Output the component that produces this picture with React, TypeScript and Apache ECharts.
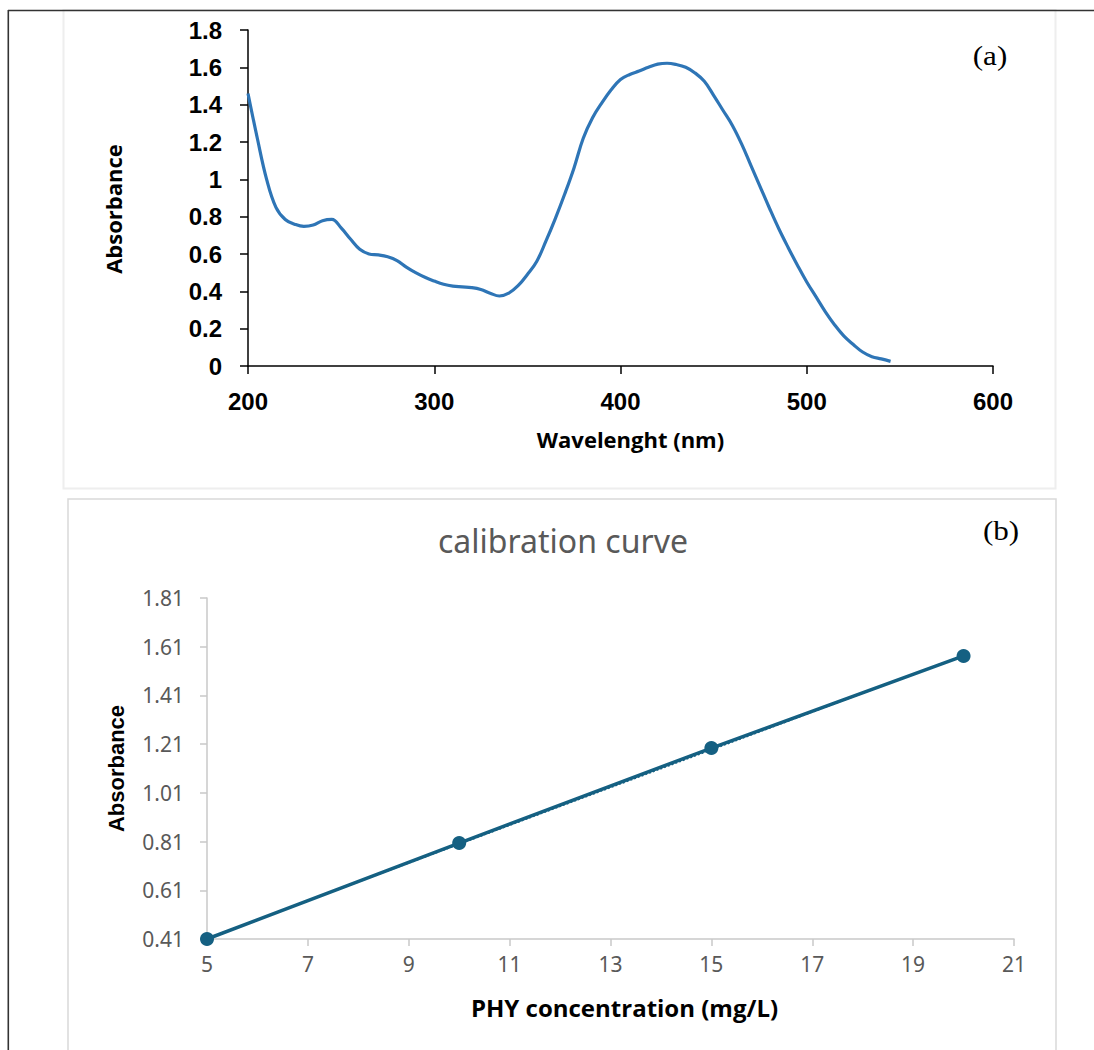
import React, { useEffect, useRef } from "react";
import * as echarts from "echarts";

// ---- Panel (a): UV-Vis spectrum ----
const wavelength = [
  200, 205, 210, 215, 220, 225, 230, 235, 240, 245, 250, 255, 260, 265, 270, 275,
  280, 285, 290, 295, 300, 305, 310, 315, 320, 325, 330, 335, 340, 345, 350, 355,
  360, 365, 370, 375, 380, 385, 390, 395, 400, 405, 410, 415, 420, 425, 430, 435,
  440, 445, 450, 455, 460, 465, 470, 475, 480, 485, 490, 495, 500, 505, 510, 515,
  520, 525, 530, 535, 540, 545,
];
const absorbance = [
  1.46, 1.22, 1.0, 0.85, 0.785, 0.76, 0.748, 0.755, 0.778, 0.785, 0.74, 0.68, 0.625, 0.6, 0.595, 0.585,
  0.565, 0.53, 0.5, 0.475, 0.455, 0.438, 0.428, 0.424, 0.42, 0.41, 0.39, 0.375, 0.39, 0.43, 0.49, 0.56,
  0.67, 0.79, 0.92, 1.06, 1.22, 1.33, 1.41, 1.48, 1.535, 1.562, 1.58, 1.6, 1.617, 1.622, 1.615, 1.6,
  1.57, 1.525, 1.45, 1.37, 1.29, 1.19, 1.075, 0.96, 0.845, 0.735, 0.635, 0.54, 0.45, 0.37, 0.29, 0.22,
  0.16, 0.115, 0.075, 0.05, 0.038, 0.025,
];

// ---- Panel (b): calibration curve ----
const concentration = [5, 10, 15, 20];
const calAbsorbance = [0.41, 0.804, 1.194, 1.572];
const trendX = [5, 20];
const trendY = [0.412, 1.574];
const calYTicks = [0.41, 0.61, 0.81, 1.01, 1.21, 1.41, 1.61, 1.81];
const calXTicks = [5, 7, 9, 11, 13, 15, 17, 19, 21];

export default function App() {
  const ref = useRef<HTMLDivElement>(null);

  useEffect(() => {
    document.body.style.margin = "0";
    const chart = echarts.init(ref.current!, null, { renderer: "svg" });

    const spectrum = wavelength.map((w, i) => [w, absorbance[i]]);
    const calib = concentration.map((c, i) => [c, calAbsorbance[i]]);
    const trend = trendX.map((c, i) => [c, trendY[i]]);

    const grayText = "#595959";
    const grayAxis = "#c9c9c9";

    chart.setOption({
      animation: false,
      backgroundColor: "#ffffff",
      grid: [
        { left: 248, right: 101, top: 30, bottom: 684, containLabel: false },
        { left: 207, right: 80, top: 598, bottom: 111, containLabel: false },
      ],
      title: {
        text: "calibration curve",
        left: 433,
        top: 519,
        textStyle: {
          fontFamily: "Noto Sans",
          fontSize: 32,
          fontWeight: "normal",
          color: grayText,
        },
      },
      xAxis: [
        {
          type: "value",
          gridIndex: 0,
          min: 200,
          max: 600,
          interval: 100,
          name: "Wavelenght (nm)",
          nameLocation: "middle",
          nameGap: 62,
          nameTextStyle: {
            fontFamily: "Open Sans",
            fontWeight: "bold",
            fontSize: 22,
            color: "#000",
            padding: [0, 0, 0, 20],
          },
          axisLine: { lineStyle: { color: "#000", width: 1.5 } },
          axisTick: { show: true, inside: false, length: 8, lineStyle: { color: "#000", width: 1.5 } },
          axisLabel: {
            margin: 23,
            fontFamily: "Liberation Sans",
            fontWeight: "bold",
            fontSize: 24,
            color: "#000",
          },
          splitLine: { show: false },
        },
        {
          type: "value",
          gridIndex: 1,
          min: 5,
          max: 21,
          name: "PHY concentration (mg/L)",
          nameLocation: "middle",
          nameGap: 56,
          nameTextStyle: {
            fontFamily: "Open Sans",
            fontWeight: "bold",
            fontSize: 24,
            color: "#000",
            padding: [0, 0, 0, 28],
          },
          axisLine: { lineStyle: { color: grayAxis, width: 1.5 } },
          axisTick: {
            show: true,
            inside: false,
            length: 7,
            customValues: calXTicks,
            lineStyle: { color: grayAxis, width: 1.5 },
          },
          axisLabel: {
            margin: 14,
            customValues: calXTicks,
            fontFamily: "Noto Sans",
            fontSize: 21,
            color: grayText,
          },
          splitLine: { show: false },
        },
      ],
      yAxis: [
        {
          type: "value",
          gridIndex: 0,
          min: 0,
          max: 1.8,
          interval: 0.2,
          name: "Absorbance",
          nameLocation: "middle",
          nameRotate: 90,
          nameGap: 124,
          nameTextStyle: {
            fontFamily: "Open Sans",
            fontWeight: "bold",
            fontSize: 22,
            color: "#000",
            padding: [0, 22, 0, 0],
          },
          axisLine: { show: true, lineStyle: { color: "#000", width: 1.5 } },
          axisTick: { show: true, inside: false, length: 8, lineStyle: { color: "#000", width: 1.5 } },
          axisLabel: {
            margin: 26,
            fontFamily: "Liberation Sans",
            fontWeight: "bold",
            fontSize: 24,
            color: "#000",
          },
          splitLine: { show: false },
        },
        {
          type: "value",
          gridIndex: 1,
          min: 0.41,
          max: 1.81,
          name: "Absorbance",
          nameLocation: "middle",
          nameRotate: 90,
          nameGap: 80,
          nameTextStyle: {
            fontFamily: "Liberation Sans",
            fontWeight: "bold",
            fontSize: 22,
            color: "#000",
          },
          axisLine: { show: true, lineStyle: { color: grayAxis, width: 1.5 } },
          axisTick: {
            show: true,
            inside: false,
            length: 7,
            customValues: calYTicks,
            lineStyle: { color: grayAxis, width: 1.5 },
          },
          axisLabel: {
            margin: 23,
            customValues: calYTicks,
            formatter: (v: number) => v.toFixed(2),
            fontFamily: "Noto Sans",
            fontSize: 21,
            color: grayText,
          },
          splitLine: { show: false },
        },
      ],
      series: [
        {
          type: "line",
          xAxisIndex: 0,
          yAxisIndex: 0,
          data: spectrum,
          smooth: 0.4,
          showSymbol: false,
          lineStyle: { color: "#2E75B6", width: 3.2 },
          z: 3,
        },
        {
          type: "line",
          xAxisIndex: 1,
          yAxisIndex: 1,
          data: calib,
          symbol: "circle",
          symbolSize: 14,
          itemStyle: { color: "#156082" },
          lineStyle: { color: "#156082", width: 3.5 },
          z: 3,
        },
        {
          type: "line",
          xAxisIndex: 1,
          yAxisIndex: 1,
          data: trend,
          showSymbol: false,
          lineStyle: { color: "#156082", width: 1.5, type: [2, 2] },
          z: 4,
        },
      ],
      graphic: [
        {
          type: "rect",
          shape: { x: 63.5, y: 10, width: 992, height: 478.5 },
          style: { fill: "none", stroke: "#eeeeee", lineWidth: 2 },
          silent: true,
          z: -1,
        },
        {
          type: "rect",
          shape: { x: 68, y: 499, width: 988, height: 600 },
          style: { fill: "none", stroke: "#d9d9d9", lineWidth: 1.5 },
          silent: true,
          z: -1,
        },
        {
          type: "line",
          shape: { x1: 8, y1: 10.5, x2: 1094, y2: 10.5 },
          style: { stroke: "#333333", lineWidth: 1.6 },
          silent: true,
        },
        {
          type: "line",
          shape: { x1: 8.3, y1: 10, x2: 8.3, y2: 1050 },
          style: { stroke: "#333333", lineWidth: 1.6 },
          silent: true,
        },
        {
          type: "text",
          x: 990,
          y: 56,
          scaleX: 1.15,
          style: {
            text: "(a)",
            font: "27px 'Liberation Serif'",
            fill: "#000",
            align: "center",
            verticalAlign: "middle",
          },
          silent: true,
        },
        {
          type: "text",
          x: 1001,
          y: 531,
          scaleX: 1.15,
          style: {
            text: "(b)",
            font: "27px 'Liberation Serif'",
            fill: "#000",
            align: "center",
            verticalAlign: "middle",
          },
          silent: true,
        },
      ],
    });

    return () => chart.dispose();
  }, []);

  return <div ref={ref} style={{ width: 1094, height: 1050, overflow: "hidden" }} />;
}
